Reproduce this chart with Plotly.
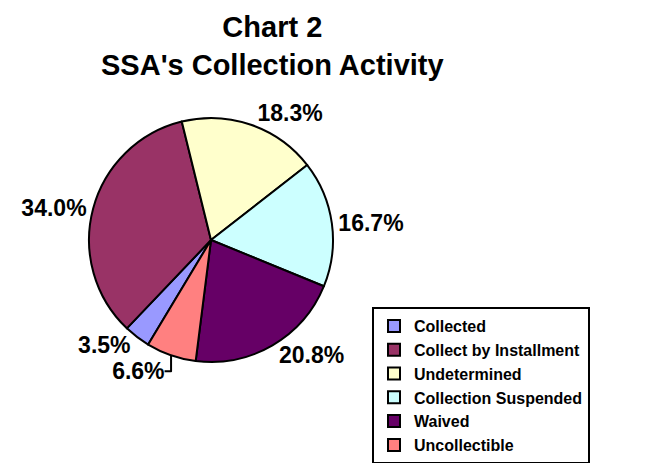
import plotly.graph_objects as go

labels = ["Collected", "Collect by Installment", "Undetermined",
          "Collection Suspended", "Waived", "Uncollectible"]
values = [3.5, 34.0, 18.3, 16.7, 20.8, 6.6]
colors = ["#9999FF", "#993366", "#FFFFCC", "#CCFFFF", "#660066", "#FF8080"]
title_lines = ["Chart 2", "SSA's Collection Activity"]

W, H = 655, 463
FONT = "Arial, Liberation Sans, sans-serif"

fig = go.Figure(go.Pie(
    labels=labels,
    values=values,
    sort=False,
    direction="clockwise",
    rotation=211,
    marker=dict(colors=colors, line=dict(color="black", width=2)),
    texttemplate="<b>%{value:.1f}%</b>",
    textposition="outside",
    textfont=dict(family=FONT, size=23, color="black"),
    hoverinfo="label+percent",
    domain=dict(x=[70 / W, 352 / W], y=[1 - 362 / H, 1 - 118 / H]),
    showlegend=True,
))

fig.update_layout(
    width=W, height=H,
    margin=dict(l=0, r=0, t=0, b=0, autoexpand=False),
    paper_bgcolor="white",
    plot_bgcolor="white",
    font=dict(family=FONT, color="black"),
    annotations=[dict(
        text="<b>" + "<br>".join(title_lines) + "</b>",
        x=272 / W, xref="paper", xanchor="center",
        y=1 - 46 / H, yref="paper", yanchor="middle",
        showarrow=False,
        font=dict(family=FONT, size=29, color="black"),
    )],
    legend=dict(
        x=372 / W, xanchor="left",
        y=1 - 307 / H, yanchor="top",
        bgcolor="white",
        bordercolor="black",
        borderwidth=2,
        font=dict(family=FONT, size=16, color="black", weight="bold"),
        itemwidth=30,
        traceorder="normal",
    ),
)

fig.write_html("out.html")
